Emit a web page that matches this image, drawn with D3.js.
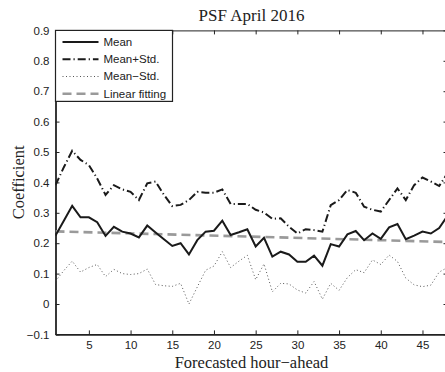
<!DOCTYPE html>
<html>
<head>
<meta charset="utf-8">
<script src="https://cdn.jsdelivr.net/npm/d3@7"></script>
<style>
  body { margin: 0; background: #fff; }
  svg { display: block; }
</style>
</head>
<body>
<script>
// date
const hours = d3.range(1, 49);
const meanVals = [0.225, 0.274, 0.323, 0.285, 0.285, 0.269, 0.224, 0.254, 0.238, 0.232,
  0.219, 0.258, 0.235, 0.213, 0.191, 0.200, 0.163, 0.210, 0.238, 0.241,
  0.274, 0.227, 0.236, 0.246, 0.189, 0.218, 0.156, 0.172, 0.163, 0.139,
  0.139, 0.159, 0.126, 0.197, 0.189, 0.229, 0.240, 0.210, 0.232, 0.214,
  0.252, 0.263, 0.213, 0.225, 0.238, 0.232, 0.250, 0.290];
const plusVals = [0.391, 0.450, 0.504, 0.474, 0.457, 0.413, 0.359, 0.391, 0.377, 0.369,
  0.342, 0.397, 0.403, 0.359, 0.322, 0.326, 0.342, 0.369, 0.366, 0.366,
  0.377, 0.329, 0.329, 0.329, 0.310, 0.301, 0.280, 0.282, 0.254, 0.232,
  0.246, 0.243, 0.238, 0.325, 0.342, 0.375, 0.366, 0.320, 0.310, 0.304,
  0.342, 0.380, 0.342, 0.391, 0.416, 0.403, 0.388, 0.430];
const minusVals = [0.075, 0.110, 0.141, 0.105, 0.120, 0.130, 0.090, 0.114, 0.100, 0.097,
  0.100, 0.115, 0.064, 0.060, 0.058, 0.068, 0.000, 0.056, 0.111, 0.125,
  0.172, 0.120, 0.141, 0.160, 0.080, 0.132, 0.040, 0.068, 0.066, 0.046,
  0.036, 0.074, 0.016, 0.068, 0.045, 0.087, 0.113, 0.103, 0.145, 0.130,
  0.161, 0.140, 0.085, 0.063, 0.057, 0.062, 0.105, 0.120];
const fitHours = [1, 48];
const fitVals = [0.239, 0.204];

const xTicks = [5, 10, 15, 20, 25, 30, 35, 40, 45];
const yTicks = [-0.1, 0, 0.1, 0.2, 0.3, 0.4, 0.5, 0.6, 0.7, 0.8, 0.9];
const legendLabels = ["Mean", "Mean+Std.", "Mean\u2212Std.", "Linear fitting"];

const W = 445, H = 372;
const margin = {left: 55.5, right: -2.5, top: 30.4, bottom: 37.6};
const iw = W - margin.left - margin.right;
const ih = H - margin.top - margin.bottom;

const svg = d3.select("body").append("svg")
  .attr("width", W)
  .attr("height", H);

const x = d3.scaleLinear().domain([1, 48]).range([0, iw]);
const y = d3.scaleLinear().domain([-0.1, 0.9]).range([ih, 0]);

const g = svg.append("g")
  .attr("transform", `translate(${margin.left},${margin.top})`);

const sansFont = "'Liberation Sans', Arial, Helvetica, sans-serif";
const serifFont = "'Liberation Serif', 'Times New Roman', serif";

// axe (ticks spre interior, ca in MATLAB)
const bottomAxis = g.append("g").attr("transform", `translate(0,${ih})`)
  .call(d3.axisBottom(x).tickValues(xTicks).tickSizeInner(-4).tickSizeOuter(0).tickPadding(6));
const topAxis = g.append("g")
  .call(d3.axisTop(x).tickValues(xTicks).tickSizeInner(-4).tickSizeOuter(0).tickFormat(""));
const leftAxis = g.append("g")
  .call(d3.axisLeft(y).tickValues(yTicks).tickSizeInner(-4).tickSizeOuter(0).tickPadding(6)
    .tickFormat(d => d === 0 ? "0" : d3.format(".1f")(d).replace("-", "\u2212")));
const rightAxis = g.append("g").attr("transform", `translate(${iw},0)`)
  .call(d3.axisRight(y).tickValues(yTicks).tickSizeInner(-4).tickSizeOuter(0).tickFormat(""));

[bottomAxis, topAxis, leftAxis, rightAxis].forEach(a => {
  a.selectAll("path").attr("stroke", "#222").attr("stroke-width", 1);
  a.selectAll("line").attr("stroke", "#222").attr("stroke-width", 1);
  a.selectAll("text").attr("fill", "#222").style("font-family", sansFont).style("font-size", "11.5px");
});
leftAxis.select("path").attr("stroke-width", 1.8);
bottomAxis.select("path").attr("stroke-width", 1.8);

// linii
const lineGen = d3.line().x(d => x(d[0])).y(d => y(d[1]));

const clip = svg.append("clipPath").attr("id", "plotclip")
  .append("rect").attr("x", 0).attr("y", 0).attr("width", iw).attr("height", ih);
const plot = g.append("g").attr("clip-path", "url(#plotclip)");

plot.append("path")
  .datum(d3.zip(fitHours, fitVals))
  .attr("d", lineGen)
  .attr("fill", "none")
  .attr("stroke", "#9a9a9a")
  .attr("stroke-width", 2.6)
  .attr("stroke-dasharray", "9,5");

plot.append("path")
  .datum(d3.zip(hours, minusVals))
  .attr("d", lineGen)
  .attr("fill", "none")
  .attr("stroke", "#555")
  .attr("stroke-width", 1)
  .attr("stroke-dasharray", "1,2.5");

plot.append("path")
  .datum(d3.zip(hours, plusVals))
  .attr("d", lineGen)
  .attr("fill", "none")
  .attr("stroke", "#1a1a1a")
  .attr("stroke-width", 2)
  .attr("stroke-dasharray", "8,3,1.2,3");

plot.append("path")
  .datum(d3.zip(hours, meanVals))
  .attr("d", lineGen)
  .attr("fill", "none")
  .attr("stroke", "#1a1a1a")
  .attr("stroke-width", 2);

// legenda
const legend = g.append("g");
legend.append("rect")
  .attr("x", 0).attr("y", 0)
  .attr("width", 117).attr("height", 71)
  .attr("fill", "#fff")
  .attr("stroke", "#222")
  .attr("stroke-width", 1.2);

const legendStyles = [
  {stroke: "#1a1a1a", width: 2, dash: null},
  {stroke: "#1a1a1a", width: 2, dash: "8,3,1.2,3"},
  {stroke: "#555", width: 1, dash: "1,2.5"},
  {stroke: "#9a9a9a", width: 2.6, dash: "9,5"}
];
legendLabels.forEach((lab, i) => {
  const ly = 11.5 + i * 17.3;
  legend.append("line")
    .attr("x1", 7).attr("x2", 43)
    .attr("y1", ly).attr("y2", ly)
    .attr("stroke", legendStyles[i].stroke)
    .attr("stroke-width", legendStyles[i].width)
    .attr("stroke-dasharray", legendStyles[i].dash);
  legend.append("text")
    .attr("x", 48).attr("y", ly + 4)
    .text(lab)
    .style("font-family", sansFont)
    .style("font-size", "11.5px")
    .attr("fill", "#222");
});

// titlu si etichete
svg.append("text")
  .attr("x", margin.left + iw / 2).attr("y", 21)
  .attr("text-anchor", "middle")
  .style("font-family", serifFont)
  .style("font-size", "17px")
  .attr("fill", "#222")
  .text("PSF April 2016");

svg.append("text")
  .attr("x", margin.left + iw / 2).attr("y", 367.5)
  .attr("text-anchor", "middle")
  .style("font-family", serifFont)
  .style("font-size", "16.5px")
  .attr("fill", "#222")
  .text("Forecasted hour\u2212ahead");

svg.append("text")
  .attr("transform", `translate(24,${margin.top + ih / 2}) rotate(-90)`)
  .attr("text-anchor", "middle")
  .style("font-family", serifFont)
  .style("font-size", "16.5px")
  .attr("fill", "#222")
  .text("Coefficient");
</script>
</body>
</html>
